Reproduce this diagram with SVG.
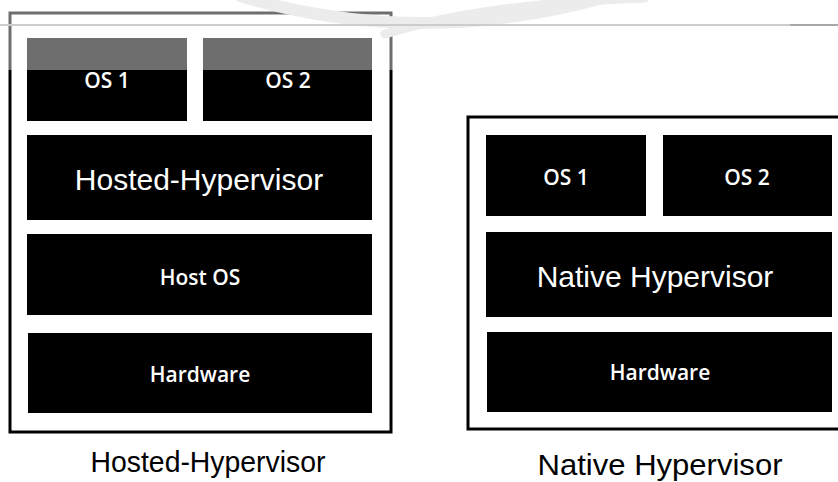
<svg xmlns="http://www.w3.org/2000/svg" width="838" height="482" viewBox="0 0 838 482">
<style>
.frame{fill:#fff;stroke:#000;stroke-width:3}
.box{fill:#000}
.small{font-family:"Open Sans","Noto Sans",sans-serif;font-size:21px;font-weight:600;fill:#fff;text-anchor:middle}
.big{font-family:"Liberation Sans",Arial,sans-serif;font-size:30px;fill:#fff;text-anchor:middle}
.cap{font-family:"Liberation Sans",Arial,sans-serif;font-size:30px;fill:#000;text-anchor:middle}
.swoosh{fill:none;stroke:#ececec;stroke-linecap:round}
</style>
<rect width="838" height="482" fill="#fff"/>
<g id="hosted-diagram">
  <rect class="frame" x="10" y="13" width="381" height="419"/>
  <g id="hosted-os1"><rect class="box" x="27" y="38" width="160" height="83"/><text class="small" x="107" y="88">OS 1</text></g>
  <g id="hosted-os2"><rect class="box" x="203" y="38" width="169" height="83"/><text class="small" x="288" y="88">OS 2</text></g>
  <g id="hosted-hypervisor"><rect class="box" x="27" y="135" width="345" height="85"/><text class="big" x="199" y="190">Hosted-Hypervisor</text></g>
  <g id="host-os"><rect class="box" x="27" y="234" width="345" height="81"/><text class="small" x="200" y="285">Host OS</text></g>
  <g id="hosted-hardware"><rect class="box" x="28" y="333" width="344" height="80"/><text class="small" x="200" y="382">Hardware</text></g>
</g>
<g id="native-diagram">
  <rect class="frame" x="468" y="117" width="374" height="312"/>
  <g id="native-os1"><rect class="box" x="486" y="135" width="160" height="81"/><text class="small" x="566" y="185">OS 1</text></g>
  <g id="native-os2"><rect class="box" x="663" y="135" width="169" height="81"/><text class="small" x="747" y="185">OS 2</text></g>
  <g id="native-hypervisor"><rect class="box" x="486" y="232" width="346" height="85"/><text class="big" x="655" y="287">Native Hypervisor</text></g>
  <g id="native-hardware"><rect class="box" x="487" y="332" width="345" height="80"/><text class="small" x="660" y="380">Hardware</text></g>
</g>
<g id="header">
  <rect x="0" y="0" width="838" height="70" fill="#fff" opacity="0.43"/>
  <path class="swoosh" d="M240 -4 Q420 50 610 -4" stroke-width="12"/>
  <path class="swoosh" d="M385 34 Q480 4 645 -2" stroke-width="9"/>
  <rect x="0" y="24" width="838" height="2" fill="#cccccc"/>
  <rect x="790" y="24" width="48" height="2" fill="#a8a8a8"/>
</g>
<g id="captions">
  <text class="cap" x="208" y="472" textLength="235" lengthAdjust="spacingAndGlyphs">Hosted-Hypervisor</text>
  <text class="cap" x="660" y="475" textLength="245" lengthAdjust="spacingAndGlyphs">Native Hypervisor</text>
</g>
<g id="connectors"/>
</svg>
